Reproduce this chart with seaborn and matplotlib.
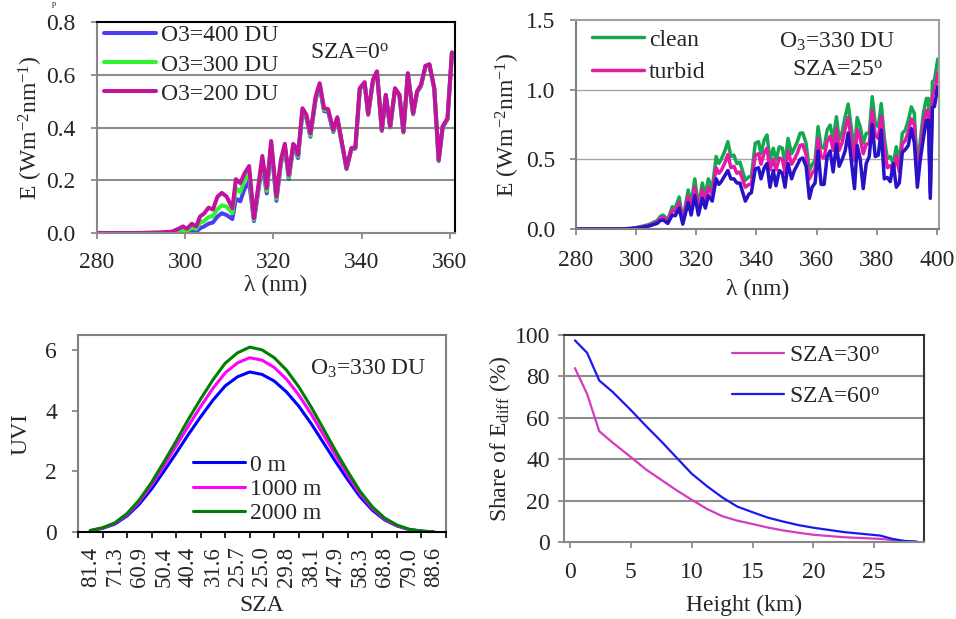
import numpy as np
import matplotlib
matplotlib.use("Agg")
import matplotlib.pyplot as plt
import seaborn as sns

# ---- top left: spectral irradiance, SZA=0, three ozone columns ----
wl_a = [280, 285, 290, 294, 297, 298.5, 299.5, 300.4, 301.5, 302.5, 303.4, 304.3, 305.3, 306.3,
        307.3, 308.3, 309.4, 310.7, 311.5, 312.5, 313.4, 314.5, 315.6, 317.5, 318.5, 319.5, 320.7,
        321.7, 322.6, 323.5, 324.5, 325.0, 325.6, 326.6, 327.5, 328.4, 329.6, 330.5, 331.5, 332.4,
        333.6, 334.5, 336.6, 337.7, 338.6, 339.6, 340.7, 341.5, 342.6, 343.5, 344.6, 345.5, 346.5,
        347.6, 348.6, 349.5, 350.5, 351.7, 352.6, 353.5, 354.5, 355.4, 356.5, 357.5, 358.4, 359.5, 360.5]
e_o3_200 = [0, 0, 0, 0.002, 0.005, 0.016, 0.025, 0.016, 0.035, 0.025, 0.063, 0.074, 0.096, 0.089,
            0.137, 0.152, 0.138, 0.094, 0.204, 0.189, 0.224, 0.254, 0.056, 0.292, 0.17, 0.349, 0.138,
            0.277, 0.338, 0.22, 0.338, 0.328, 0.296, 0.473, 0.448, 0.378, 0.518, 0.568, 0.473, 0.47,
            0.391, 0.439, 0.246, 0.322, 0.324, 0.549, 0.572, 0.452, 0.581, 0.613, 0.391, 0.524, 0.404,
            0.549, 0.524, 0.385, 0.606, 0.454, 0.537, 0.562, 0.634, 0.64, 0.549, 0.277, 0.404, 0.435, 0.685]
e_o3_300 = [0, 0, 0, 0.001, 0.002, 0.005, 0.01, 0.008, 0.02, 0.015, 0.04, 0.045, 0.06, 0.065,
            0.09, 0.105, 0.1, 0.075, 0.17, 0.155, 0.2, 0.225, 0.05, 0.275, 0.16, 0.34, 0.13,
            0.27, 0.33, 0.212, 0.33, 0.32, 0.29, 0.466, 0.44, 0.37, 0.512, 0.562, 0.467, 0.465,
            0.387, 0.436, 0.244, 0.32, 0.322, 0.547, 0.57, 0.45, 0.579, 0.611, 0.389, 0.522, 0.402,
            0.547, 0.522, 0.383, 0.604, 0.452, 0.535, 0.56, 0.632, 0.638, 0.547, 0.275, 0.402, 0.433, 0.683]
e_o3_400 = [0, 0, 0, 0, 0, 0.001, 0.002, 0.002, 0.005, 0.005, 0.018, 0.025, 0.035, 0.04,
            0.062, 0.075, 0.068, 0.053, 0.13, 0.12, 0.165, 0.195, 0.045, 0.26, 0.15, 0.33, 0.122,
            0.262, 0.322, 0.205, 0.322, 0.313, 0.284, 0.46, 0.434, 0.365, 0.507, 0.557, 0.462, 0.46,
            0.383, 0.433, 0.242, 0.318, 0.32, 0.545, 0.568, 0.448, 0.577, 0.609, 0.387, 0.52, 0.4,
            0.545, 0.52, 0.381, 0.602, 0.45, 0.533, 0.558, 0.63, 0.636, 0.545, 0.273, 0.4, 0.431, 0.681]

# ---- top right: clean / turbid atmosphere, O3=330, SZA=25 ----
wl_b = [280, 290, 295, 298, 300, 302, 304, 305, 306, 307, 308, 309, 310.5, 312, 313, 314.3, 315.5,
        317.3, 318.3, 319.5, 320.7, 322, 323, 324, 325.3, 326.6, 327.5, 328.3, 329.4, 330.5, 331.5,
        332.5, 333.5, 334.5, 336.3, 337.5, 338.3, 339.6, 340.7, 341.5, 342.6, 343.5, 344.5, 345.6,
        346.5, 347.6, 348.6, 349.5, 350.5, 351.7, 352.6, 353.6, 354.5, 355.4, 356.5, 357.6, 358.5,
        359.5, 360.5, 361.5, 362.5, 363.5, 364.5, 365.5, 366.6, 367.5, 368.5, 369.5, 370.5, 371.5,
        372.6, 373.5, 374.5, 375.5, 376.5, 377.5, 378.5, 379.5, 380.5, 381.5, 382.5, 383.5, 384.5,
        385.5, 386.5, 387.5, 388.5, 389.5, 390.5, 391.5, 392.5, 393.5, 394.5, 395.5, 396.5, 397.2,
        397.8, 398.5, 399.2, 400.3]
e_clean = [0, 0, 0.001, 0.004, 0.01, 0.02, 0.03, 0.04, 0.05, 0.06, 0.09, 0.1, 0.065, 0.16, 0.15, 0.23, 0.065,
           0.28, 0.18, 0.36, 0.16, 0.33, 0.24, 0.36, 0.29, 0.52, 0.47, 0.5, 0.555, 0.627, 0.52,
           0.53, 0.47, 0.48, 0.35, 0.375, 0.375, 0.615, 0.627, 0.54, 0.64, 0.675, 0.495, 0.58,
           0.495, 0.59, 0.58, 0.47, 0.65, 0.54, 0.58, 0.627, 0.687, 0.69, 0.615, 0.42, 0.46,
           0.495, 0.735, 0.59, 0.58, 0.71, 0.746, 0.64, 0.806, 0.64, 0.7, 0.806, 0.897, 0.734,
           0.567, 0.8, 0.734, 0.615, 0.687, 0.687, 0.95, 0.758, 0.734, 0.9, 0.66, 0.507, 0.52,
           0.47, 0.59, 0.47, 0.687, 0.71, 0.78, 0.877, 0.83, 0.42, 0.64, 0.83, 0.937, 0.937,
           0.3, 1.057, 1.07, 1.22]
e_turbid = [0, 0, 0.001, 0.003, 0.008, 0.016, 0.025, 0.033, 0.042, 0.05, 0.075, 0.085, 0.055, 0.135, 0.125, 0.19, 0.05,
            0.235, 0.15, 0.3, 0.13, 0.28, 0.2, 0.3, 0.245, 0.44, 0.4, 0.42, 0.47, 0.535, 0.44,
            0.45, 0.4, 0.41, 0.3, 0.32, 0.32, 0.53, 0.54, 0.465, 0.55, 0.58, 0.425, 0.5,
            0.425, 0.51, 0.5, 0.405, 0.56, 0.465, 0.5, 0.545, 0.6, 0.605, 0.535, 0.36, 0.4,
            0.43, 0.65, 0.52, 0.51, 0.63, 0.665, 0.565, 0.72, 0.565, 0.62, 0.72, 0.8, 0.65,
            0.49, 0.715, 0.65, 0.54, 0.61, 0.61, 0.85, 0.675, 0.65, 0.81, 0.585, 0.44, 0.455,
            0.41, 0.52, 0.41, 0.61, 0.635, 0.7, 0.79, 0.745, 0.36, 0.56, 0.75, 0.85, 0.85,
            0.26, 0.96, 0.98, 1.12]
e_blue = [0, 0, 0, 0.002, 0.006, 0.012, 0.02, 0.026, 0.034, 0.04, 0.06, 0.065, 0.04, 0.1, 0.095, 0.15, 0.035,
          0.19, 0.1, 0.24, 0.1, 0.22, 0.15, 0.24, 0.2, 0.36, 0.32, 0.34, 0.38, 0.42, 0.36,
          0.36, 0.33, 0.33, 0.2, 0.25, 0.26, 0.43, 0.44, 0.36, 0.44, 0.47, 0.3, 0.42,
          0.31, 0.42, 0.4, 0.3, 0.47, 0.36, 0.42, 0.46, 0.5, 0.51, 0.45, 0.22, 0.3,
          0.33, 0.56, 0.32, 0.32, 0.52, 0.56, 0.41, 0.61, 0.45, 0.5, 0.56, 0.69, 0.5,
          0.29, 0.6, 0.5, 0.29, 0.47, 0.52, 0.75, 0.52, 0.53, 0.71, 0.36, 0.37, 0.34,
          0.47, 0.3, 0.33, 0.55, 0.57, 0.6, 0.72, 0.62, 0.3, 0.5, 0.65, 0.78, 0.78,
          0.22, 0.87, 0.88, 1.02]

# ---- bottom left: UVI through the day at 3 altitudes ----
sza_labels = ["81.4", "71.3", "60.9", "50.4", "40.4", "31.6", "25.7", "25.0",
              "29.8", "38.1", "47.9", "58.3", "68.8", "79.0", "88.6"]
uvi_0m = [0.04, 0.12, 0.26, 0.53, 0.92, 1.42, 2.0, 2.6, 3.22, 3.8, 4.35, 4.82, 5.12, 5.28, 5.2,
          4.98, 4.62, 4.15, 3.58, 2.95, 2.32, 1.72, 1.16, 0.72, 0.4, 0.2, 0.08, 0.03, 0.0]
uvi_1000m = [0.05, 0.13, 0.28, 0.57, 1.0, 1.55, 2.18, 2.84, 3.5, 4.14, 4.74, 5.25, 5.58, 5.75, 5.67,
             5.43, 5.04, 4.52, 3.9, 3.21, 2.53, 1.87, 1.26, 0.78, 0.43, 0.21, 0.08, 0.03, 0.0]
uvi_2000m = [0.05, 0.14, 0.3, 0.61, 1.06, 1.64, 2.31, 3.0, 3.72, 4.39, 5.02, 5.57, 5.91, 6.1, 6.01,
             5.75, 5.34, 4.79, 4.13, 3.41, 2.68, 1.99, 1.34, 0.83, 0.46, 0.23, 0.09, 0.03, 0.0]

# ---- bottom right: diffuse share vs height ----
height_km = [0.4, 1.4, 2.4, 3.5, 5, 6.25, 7.5, 8.75, 10, 11.25, 12.5, 13.75, 15, 16.25,
             17.5, 18.75, 20, 22.5, 25.5, 26.5, 27.5, 28.5]
share_30 = [84, 71.5, 53.5, 48, 41, 35, 30, 25, 20.4, 16, 12.5, 10.3, 8.7, 7,
            5.6, 4.5, 3.5, 2.3, 1.5, 1.0, 0.4, 0.1]
share_60 = [97.4, 91.4, 78, 72.5, 63.7, 56, 48.6, 40.8, 33, 27, 21.6, 17.1, 14.4, 11.8,
            9.9, 8.2, 6.9, 4.8, 3.1, 1.5, 0.5, 0.2]

sns.set_style("white")
plt.rcParams['font.family'] = ['Liberation Serif', 'DejaVu Serif']
plt.rcParams['font.size'] = 17
plt.rcParams['mathtext.fontset'] = 'custom'
plt.rcParams['mathtext.rm'] = 'Liberation Serif'
plt.rcParams['mathtext.it'] = 'Liberation Serif:italic'
plt.rcParams['mathtext.bf'] = 'Liberation Serif:bold'
plt.rcParams['axes.unicode_minus'] = False

fig = plt.figure(figsize=(9.56, 6.19), dpi=100)
W, H = 956, 619


def add_ax(l, t, r, b):
    return fig.add_axes([l / W, 1 - b / H, (r - l) / W, (b - t) / H])


def style(ax, spine_cols, xpad, ypad):
    for side, c in spine_cols.items():
        ax.spines[side].set_color(c)
        ax.spines[side].set_linewidth(1.5)
    ax.tick_params(axis='both', which='major', direction='out', length=4.5, width=1.2,
                   color='#808080', labelsize=17, bottom=True, left=True)
    ax.tick_params(axis='x', which='major', pad=xpad)
    ax.tick_params(axis='y', which='major', pad=ypad)


grey = '#888888'
deg = r'$^{\mathrm{o}}$'

# top left
ax1 = add_ax(97, 22, 455, 233)
sns.lineplot(x=wl_a, y=e_o3_400, ax=ax1, color='#4b3cf5', lw=2.9, label='O3=400 DU')
sns.lineplot(x=wl_a, y=e_o3_300, ax=ax1, color='#2ef52e', lw=2.9, label='O3=300 DU')
sns.lineplot(x=wl_a, y=e_o3_200, ax=ax1, color='#c2129e', lw=2.9, label='O3=200 DU')
ax1.set_xlim(280, 361.2)
ax1.set_ylim(0, 0.8)
ax1.set_xticks([280, 300, 320, 340, 360])
ax1.set_yticks([0, 0.2, 0.4, 0.6, 0.8])
ax1.set_yticklabels(['0.0', '0.2', '0.4', '0.6', '0.8'])
for v in [0.2, 0.4, 0.6]:
    ax1.axhline(v, color='#8c8c8c', lw=1.5, zorder=0)
style(ax1, {'left': grey, 'bottom': grey, 'top': 'black', 'right': 'black'}, 9.5, 11)
ax1.set_xlabel('λ (nm)', fontsize=17, labelpad=1)
ax1.set_ylabel('E (Wm$^{-2}$nm$^{-1}$)', fontsize=17, labelpad=1)
ax1.legend(loc='upper left', bbox_to_anchor=(0.02, 0.986), frameon=False, borderpad=0,
           borderaxespad=0, handlelength=2.2, handletextpad=0.2, labelspacing=0.32, fontsize=17)
ax1.text(0.595, 0.853, 'SZA=0' + deg, transform=ax1.transAxes, ha='left', va='center', fontsize=17)

# top right
ax2 = add_ax(576, 20, 939, 229)
sns.lineplot(x=wl_b, y=e_clean, ax=ax2, color='#14a850', lw=2.5, label='clean')
sns.lineplot(x=wl_b, y=e_turbid, ax=ax2, color='#e61aa6', lw=2.5, label='turbid')
sns.lineplot(x=wl_b, y=e_blue, ax=ax2, color='#2812c8', lw=2.5)
ax2.set_xlim(280, 400.7)
ax2.set_ylim(0, 1.5)
ax2.set_xticks([280, 300, 320, 340, 360, 380, 400])
ax2.set_yticks([0, 0.5, 1.0, 1.5])
ax2.set_yticklabels(['0.0', '0.5', '1.0', '1.5'])
for v in [0.5, 1.0]:
    ax2.axhline(v, color='#a6a6a6', lw=1.0, zorder=0)
style(ax2, {'left': '#808080', 'bottom': '#808080', 'top': '#a0a0a0', 'right': '#a0a0a0'}, 10.5, 10.5)
ax2.set_xlabel('λ (nm)', fontsize=17, labelpad=6)
ax2.set_ylabel('E (Wm$^{-2}$nm$^{-1}$)', fontsize=17, labelpad=3)
ax2.legend(loc='upper left', bbox_to_anchor=(0.045, 0.956), frameon=False, borderpad=0,
           borderaxespad=0, handlelength=2.2, handletextpad=0.2, labelspacing=0.46, fontsize=17)
ax2.text(0.72, 0.895, 'O$_3$=330 DU', transform=ax2.transAxes, ha='center', va='center', fontsize=17)
ax2.text(0.72, 0.761, 'SZA=25' + deg, transform=ax2.transAxes, ha='center', va='center', fontsize=17)

# bottom left
ax3 = add_ax(78, 335, 446, 532)
t_idx = np.arange(len(uvi_0m)) * 0.5
sns.lineplot(x=t_idx, y=uvi_0m, ax=ax3, color='#0000ff', lw=2.2, label='0 m')
sns.lineplot(x=t_idx, y=uvi_1000m, ax=ax3, color='#ff00ff', lw=2.2, label='1000 m')
sns.lineplot(x=t_idx, y=uvi_2000m, ax=ax3, color='#008000', lw=2.2, label='2000 m')
n = len(sza_labels)
ax3.set_xlim(-0.5, n - 0.5)
ax3.set_ylim(0, 6.5)
ax3.set_yticks([0, 2, 4, 6])
ax3.set_xticks(np.arange(n + 1) - 0.5)
ax3.set_xticklabels([])
ax3.set_xticks(np.arange(n), minor=True)
ax3.set_xticklabels(sza_labels, minor=True, rotation=90)
style(ax3, {'left': '#808080', 'bottom': 'black', 'top': '#808080', 'right': '#808080'}, 4, 10.5)
ax3.tick_params(axis='x', which='major', color='black')
ax3.tick_params(axis='x', which='minor', length=0, labelsize=16.5, pad=10.5)
ax3.set_xlabel('SZA', fontsize=17, labelpad=6)
ax3.set_ylabel('UVI', fontsize=17, labelpad=10)
ax3.legend(loc='upper left', bbox_to_anchor=(0.3125, 0.395), frameon=False, borderpad=0,
           borderaxespad=0, handlelength=2.2, handletextpad=0.2, labelspacing=0.12, fontsize=17)
ax3.text(0.63, 0.827, 'O$_3$=330 DU', transform=ax3.transAxes, ha='left', va='center', fontsize=17)

# bottom right
ax4 = add_ax(564, 335, 924, 542)
sns.lineplot(x=height_km, y=share_30, ax=ax4, color='#d23cc0', lw=1.6, label='SZA=30' + deg)
sns.lineplot(x=height_km, y=share_60, ax=ax4, color='#1a1af0', lw=1.6, label='SZA=60' + deg)
ax4.set_xlim(-0.5, 29.1)
ax4.set_ylim(0, 100)
ax4.set_xticks([0, 5, 10, 15, 20, 25])
ax4.set_yticks([0, 20, 40, 60, 80, 100])
for v in [20, 40, 60, 80]:
    ax4.axhline(v, color='#8c8c8c', lw=1.5, zorder=0)
style(ax4, {'left': grey, 'bottom': grey, 'top': '#333333', 'right': '#333333'}, 10, 5.6)
ax4.set_xlabel('Height (km)', fontsize=17, labelpad=8.5)
ax4.set_ylabel('Share of E$_{\\mathrm{diff}}$ (%)', fontsize=17, labelpad=1)
ax4.legend(loc='upper left', bbox_to_anchor=(0.467, 0.952), frameon=False, borderpad=0,
           borderaxespad=0, handlelength=2.2, handletextpad=0.2, labelspacing=0.83, fontsize=17)

# clipped letter left over at the very top of the page
fig.text(52 / W, 1.0, 'p', ha='left', va='top', fontsize=6)

fig.savefig('out.png', dpi=100)
